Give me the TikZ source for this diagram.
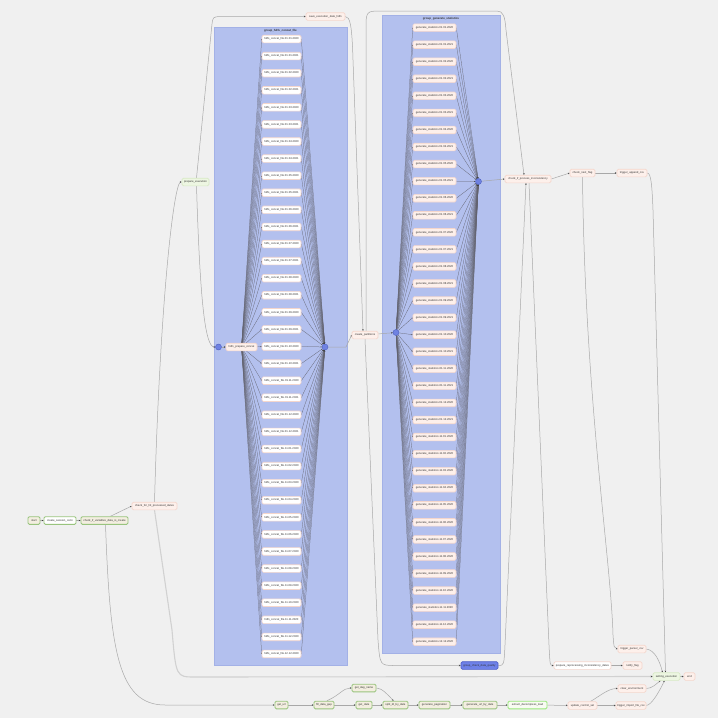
\documentclass[tikz,border=0pt]{standalone}
\usepackage{fontspec}
\setmainfont{Liberation Sans}
\usetikzlibrary{arrows.meta,calc}
\definecolor{bgc}{HTML}{F0F0F0}
\definecolor{grpc}{HTML}{B3C0EE}
\definecolor{grpb}{HTML}{A3B1E6}
\definecolor{circf}{HTML}{6F82E2}
\definecolor{circd}{HTML}{4B5DBE}
\definecolor{pinkf}{HTML}{FDF0EB}
\definecolor{pinkb}{HTML}{F4D6CC}
\definecolor{beigef}{HTML}{F3EEE0}
\definecolor{greenb}{HTML}{99C47E}
\definecolor{lgf}{HTML}{EDF6E2}
\definecolor{lgb}{HTML}{D8E9C6}
\definecolor{edlb}{HTML}{98E87A}
\definecolor{gcdqf}{HTML}{6E81E8}
\definecolor{gcdqb}{HTML}{5060C8}
\definecolor{edgec}{HTML}{A8A8A8}
\definecolor{fanc}{HTML}{62626E}
\definecolor{txtc}{HTML}{333333}
\newcommand\nfs{\fontsize{2.75}{3}\selectfont}
\newcommand\gfs{\fontsize{2.9}{3.2}\selectfont\bfseries}
\pgfdeclarelayer{grp}\pgfdeclarelayer{edg}\pgfsetlayers{grp,edg,main}
\def\datelist{01.01.2020,01.01.2021,01.02.2020,01.02.2021,01.03.2020,01.03.2021,01.04.2020,01.04.2021,01.05.2020,01.05.2021,01.06.2020,01.06.2021,01.07.2020,01.07.2021,01.08.2020,01.08.2021,01.09.2020,01.09.2021,01.10.2020,01.10.2021,01.11.2020,01.11.2021,01.12.2020,01.12.2021,11.01.2020,11.02.2020,11.03.2020,11.04.2020,11.05.2020,11.06.2020,11.07.2020,11.08.2020,11.09.2020,11.10.2020,11.11.2020,11.12.2020,12.12.2020}
\begin{document}
\begin{tikzpicture}[x=1pt,y=-1pt,
  box/.style={rounded corners=1.4pt, inner sep=0pt, minimum height=7.6pt, font=\nfs, text=txtc, line width=0.6pt},
  pinkn/.style={box, fill=pinkf, draw=pinkb},
  succ/.style={box, fill=beigef, draw=greenb, line width=0.9pt},
  wsucc/.style={box, fill=white, draw=greenb, line width=0.9pt},
  lgreen/.style={box, fill=lgf, draw=lgb},
  whiten/.style={box, fill=white, draw=pinkb},
  hdfsn/.style={box, fill=white, draw=pinkb, minimum width=39pt},
  statn/.style={box, fill=pinkf, draw=pinkb, minimum width=43pt},
  edlsty/.style={box, fill=white!60!lgf, draw=edlb, line width=0.9pt},
  gcdqsty/.style={box, fill=gcdqf, draw=gcdqb},
  circ/.style={circle, minimum size=6pt, inner sep=0pt, fill=circf, draw=circd, line width=0.4pt},
  conn/.style={draw=edgec, line width=0.5pt, -{Stealth[length=1.7pt,width=1.5pt,color=black!75]}},
  longconn/.style={draw=black!18, line width=1.1pt, -{Stealth[length=2pt,width=1.8pt,color=black!75]}},
  fanline/.style={draw=fanc, line width=0.25pt, -{Stealth[length=1.2pt,width=1pt,color=black!75]}},
  gtitle/.style={font=\gfs, text=txtc, inner sep=0pt}
]
\useasboundingbox (0,0) rectangle (718,718);
\begin{pgfonlayer}{grp}
  \fill[bgc] (0,0) rectangle (718,718);
  \filldraw[fill=grpc, draw=grpb, line width=0.4pt] (214,27.5) rectangle (347,665);
  \filldraw[fill=grpc, draw=grpb, line width=0.4pt] (382,15.5) rectangle (500,653);
\end{pgfonlayer}
\node[gtitle] (g1t) at (280.5,30.4) {group\_hdfs\_concat\_file};
\node[gtitle] (g2t) at (441,18.6) {group\_generate\_statistics};

% left chain
\node[succ, minimum width=12pt] (start) at (34,520.5) {start};
\node[wsucc, minimum width=32pt] (csc) at (60,520.5) {create\_session\_conn};
\node[succ, minimum width=47pt] (civ) at (104.5,520.5) {check\_if\_variables\_data\_is\_create};
\node[pinkn, minimum width=45pt] (chp) at (154.5,506) {check\_for\_hit\_processed\_dates};
\node[lgreen, minimum width=27pt] (pe) at (195.5,182) {prepare\_execution};
\node[pinkn, minimum width=39pt] (sed) at (325.5,16.5) {save\_execution\_date\_hdfs};

% hdfs group
\node[circ] (hc1) at (218.5,347) {};
\node[pinkn, minimum width=31pt] (hpc) at (241.5,347) {hdfs\_prepare\_concat};
\node[circ] (hc2) at (325,347) {};
\foreach \d [count=\i from 0] in \datelist {
  \node[hdfsn] (h\i) at (281.5,{39+17.083*\i}) {hdfs\_concat\_file.\d};
}

\node[pinkn, minimum width=26pt] (cp) at (365,335) {create\_partitions};

% stats group
\node[circ] (sc1) at (396,332.5) {};
\node[circ] (sc2) at (478.5,181.5) {};
\foreach \d [count=\i from 0] in \datelist {
  \node[statn] (s\i) at (434.5,{27.6+17.06*\i}) {generate\_statistics.\d};
}
\node[gcdqsty, minimum width=37pt] (gcdq) at (479.5,665.5) {group\_check\_data\_quality};

% right part
\node[pinkn, minimum width=46pt] (cip) at (528,179) {check\_if\_process\_inconsistency};
\node[pinkn, minimum width=25pt] (cnf) at (582.5,173) {check\_next\_flag};
\node[pinkn, minimum width=30pt] (tac) at (632,173) {trigger\_append\_csv};
\node[pinkn, minimum width=28pt] (tpc) at (632,649) {trigger\_parser\_csv};
\node[whiten, minimum width=57pt] (prd) at (582.5,665.5) {prepare\_reprocessing\_inconsistency\_dates};
\node[pinkn, minimum width=19pt] (nf) at (632.5,665.5) {notify\_flag};
\node[lgreen, minimum width=27pt] (se) at (666.5,676.5) {setting\_execution};
\node[pinkn, minimum width=11pt] (end) at (689.5,676.5) {end};
\node[pinkn, minimum width=28pt] (ce) at (632,688.5) {clear\_environment};
\node[pinkn, minimum width=29pt] (ucs) at (582.5,705.5) {update\_control\_set};
\node[pinkn, minimum width=30pt] (tifc) at (631,705.5) {trigger\_import\_file\_csv};

% bottom row
\node[succ, minimum width=13pt] (gu) at (281.5,705) {get\_url};
\node[succ, minimum width=20pt] (fdg) at (324,705) {fill\_data\_gap};
\node[succ, minimum width=24pt] (gdn) at (364,688) {get\_dag\_name};
\node[succ, minimum width=16pt] (gd) at (364,705) {get\_date};
\node[succ, minimum width=25pt] (sdd) at (395.5,705) {split\_dt\_by\_date};
\node[succ, minimum width=31pt] (gp) at (434.5,705) {generate\_pagination};
\node[succ, minimum width=34pt] (gud) at (480,705) {generate\_url\_by\_date};
\node[edlsty, minimum width=39pt] (edl) at (527.5,705) {extract\_decompress\_load};

\begin{pgfonlayer}{edg}
  \foreach \i in {0,...,36} {
    \draw[fanline] (hpc) -- (h\i.west);
    \draw[fanline] (h\i.east) -- (hc2);
    \draw[fanline] (sc1) -- (s\i.west);
    \draw[fanline] (s\i.east) -- (sc2);
  }
  \draw[conn] (start) -- (csc);
  \draw[conn] (csc) -- (civ);
  \draw[conn] ([xshift=6pt]civ.north) -- (chp.west);
  \draw[conn] ([xshift=1pt]civ.south) .. controls (110,650) and (118,705) .. (165,705) -- (gu.west);
  \draw[conn] (chp.north) .. controls (160,300) and (174,182) .. (pe.west);
  \draw[conn] ([xshift=1pt]pe.north) -- (212,24) .. controls (213,17) .. (220,16.5) -- (sed.west);
  \draw[conn] ([xshift=1pt]pe.south) .. controls (200,300) and (205,347) .. (hc1.west);
  \draw[conn] (hc1) -- (hpc);
  \draw[conn] (hc2.east) -- (346,347) -- (cp.west);
  \draw[conn] (sed.east) .. controls (350,16.5) and (352,25) .. (353,60) -- ([xshift=-2pt]cp.north);
  \draw[conn] (cp) -- (sc1);
  \draw[conn] ([xshift=1pt]cp.north) -- (366,30) .. controls (366,11) .. (382,11) -- (497,11) .. controls (503,11) and (505,16) .. (506,30) -- ([xshift=-4pt]cip.north);
  \draw[conn] (cp.south) -- (378,640) .. controls (380,665.5) .. (395,665.5) -- (gcdq.west);
  \draw[conn] (gcdq.east) .. controls (504,665.5) .. (505,645) -- ([xshift=-2pt]cip.south);
  \draw[conn] (sc2) -- (cip.west);
  \draw[conn] (cip.east) -- (cnf.west);
  \draw[conn] (cnf) -- (tac);
  \draw[conn] ([xshift=1pt]cip.south) -- (549,645) .. controls (550,665.5) .. (prd.west);
  \draw[conn] (prd) -- (nf);
  \draw[conn] (cnf.south) .. controls (585,400) and (611,560) .. (613,635) .. controls (614,648) .. (tpc.west);
  \draw[conn] (tac.east) .. controls (651,173) and (652,185) .. (653,210) -- ([xshift=-1pt]se.north);
  \draw[conn] (tpc.east) .. controls (655,650) and (660,662) .. ([xshift=-4pt]se.north);
  \draw[conn] (ce.east) .. controls (652,688.5) and (656,684) .. ([xshift=-6pt]se.south);
  \draw[conn] (tifc.east) .. controls (652,705) and (660,690) .. ([xshift=-2pt]se.south);
  \draw[conn] (se) -- (end);
  \draw[longconn] (chp.south) -- (172,630) .. controls (176,677) .. (195,677) -- (se.west);
  \draw[conn] (edl) -- (ucs);
  \draw[conn] ([xshift=8pt]ucs.north) .. controls (600,696) and (608,688.5) .. (ce.west);
  \draw[conn] (ucs) -- (tifc);
  \draw[conn] (gu) -- (fdg);
  \draw[conn] (fdg) -- (gd);
  \draw[conn] (gd) -- (sdd);
  \draw[conn] (sdd) -- (gp);
  \draw[conn] (gp) -- (gud);
  \draw[conn] (gud) -- (edl);
  \draw[conn] ([xshift=3pt]fdg.north) .. controls (340,695) and (343,688) .. (gdn.west);
  \draw[conn] (gdn.east) .. controls (382,688) and (388,695) .. ([xshift=-2pt]sdd.north);
\end{pgfonlayer}
\end{tikzpicture}
\end{document}
